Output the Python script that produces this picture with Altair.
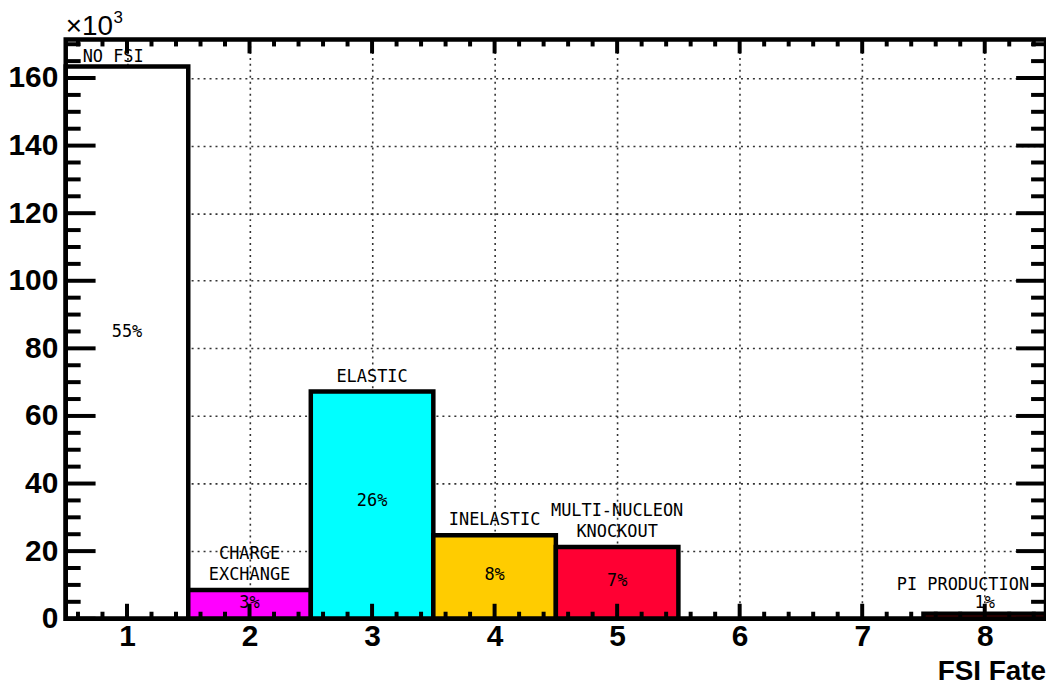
import altair as alt
import pandas as pd
import numpy as np

# ---- data (counts in units of 10^3) ----
bins = [1, 2, 3, 4, 5, 6, 7, 8]
fates = ["NO FSI", "CHARGE\nEXCHANGE", "ELASTIC", "INELASTIC",
         "MULTI-NUCLEON\nKNOCKOUT", "", "", "PI PRODUCTION"]
counts = [163.4, 8.5, 67.2, 24.7, 21.2, 0.0, 0.0, 1.5]
percents = ["55%", "3%", "26%", "8%", "7%", "", "", "1%"]
colors = ["#ffffff", "#ff00ff", "#00ffff", "#ffcc00", "#ff0033",
          "#ffffff", "#ffffff", "#990000"]
x_major = [1, 2, 3, 4, 5, 6, 7, 8]
y_major = [0, 20, 40, 60, 80, 100, 120, 140, 160]

W, H = 985, 582
XMIN, XMAX = 0.5, 8.5
YMAX = 171.4

df = pd.DataFrame({
    "bin": bins, "fate": fates, "count": counts, "pct": percents,
    "color": colors,
})
df["lo"] = df["bin"] - 0.5
df["hi"] = df["bin"] + 0.5
df["pct_y"] = np.maximum(df["count"] * 0.52, 4.5)
df["lines"] = df["fate"].str.count("\n") + 1

xs = alt.Scale(domain=[XMIN, XMAX], nice=False, zero=False)
ys = alt.Scale(domain=[0, YMAX], nice=False, zero=True)

font_ax = "Liberation Sans"
font_lab = "DejaVu Sans Mono"

XAX = alt.Axis(values=x_major, title=None, ticks=False, domain=False,
               labelFontSize=30, labelFontWeight="bold", labelFont=font_ax,
               labelColor="black", labelPadding=3, grid=True, gridColor="#333",
               gridDash=[2, 4], gridWidth=1.6, labelFlush=False)
YAX = alt.Axis(values=y_major, title=None, ticks=False, domain=False,
               labelFontSize=30, labelFontWeight="bold", labelFont=font_ax,
               labelColor="black", labelPadding=8, grid=True, gridColor="#333",
               gridDash=[2, 4], gridWidth=1.6, labelFlush=False)


def X(f):
    return alt.X(f, scale=xs, axis=XAX)


def Y(f):
    return alt.Y(f, scale=ys, axis=YAX)


bars = alt.Chart(df).mark_rect(stroke="black", strokeWidth=4.5).encode(
    x=X("lo:Q"), x2="hi:Q", y=Y("count:Q"), y2=alt.datum(0),
    fill=alt.Color("color:N", scale=None),
)

# category labels
lab_base = dict(font=font_lab, fontSize=17, lineBreak="\n", lineHeight=21,
                baseline="bottom", color="black")
lab_left = alt.Chart(df[df["bin"] == 1]).mark_text(align="left", dx=17, dy=-1, **lab_base).encode(
    x=X("lo:Q"), y=Y("count:Q"), text="fate:N")
lab_mid1 = alt.Chart(df[(df["bin"] > 1) & (df["bin"] < 8) & (df["lines"] == 1)]).mark_text(
    align="center", dy=-6, **lab_base).encode(x=X("bin:Q"), y=Y("count:Q"), text="fate:N")
lab_mid2 = alt.Chart(df[(df["bin"] > 1) & (df["bin"] < 8) & (df["lines"] == 2)]).mark_text(
    align="center", dy=-27, **lab_base).encode(x=X("bin:Q"), y=Y("count:Q"), text="fate:N")
lab_right = alt.Chart(df[df["bin"] == 8]).mark_text(align="right", dx=-17, dy=-20, **lab_base).encode(
    x=X("hi:Q"), y=Y("count:Q"), text="fate:N")

pct = alt.Chart(df).mark_text(font=font_lab, fontSize=17, baseline="middle", color="black").encode(
    x=X("bin:Q"), y=Y("pct_y:Q"), text="pct:N")

# ticks (ROOT style, inside the frame)
xmin_t = [round(v, 1) for v in np.arange(0.6, 8.41, 0.2) if abs(v - round(v)) > 1e-6]
ymin_t = [v for v in range(0, 171, 5) if v % 20 != 0]
tx_major = pd.DataFrame({"v": x_major})
tx_minor = pd.DataFrame({"v": xmin_t})
ty_major = pd.DataFrame({"v": y_major})
ty_minor = pd.DataFrame({"v": ymin_t})


def xtick(data, y0, y1):
    return alt.Chart(data).mark_rule(color="black", strokeWidth=4).encode(
        x=X("v:Q"), y=alt.value(y0), y2=alt.value(y1))


def ytick(data, x0, x1):
    return alt.Chart(data).mark_rule(color="black", strokeWidth=4).encode(
        y=Y("v:Q"), x=alt.value(x0), x2=alt.value(x1))


ticks = [
    xtick(tx_major, H, H - 15), xtick(tx_minor, H, H - 7),
    xtick(tx_major, 0, 14), xtick(tx_minor, 0, 7),
    ytick(ty_major, 0, 30), ytick(ty_minor, 0, 15),
    ytick(ty_major, W, W - 30), ytick(ty_minor, W, W - 15),
]

one = pd.DataFrame({"a": [0]})
frame = alt.Chart(one).mark_rect(fillOpacity=0, stroke="black", strokeWidth=4.5).encode(
    x=alt.value(0), x2=alt.value(W), y=alt.value(0), y2=alt.value(H))

exp1 = alt.Chart(one).mark_text(align="left", baseline="alphabetic", fontSize=28,
                                font=font_ax, color="black").encode(
    x=alt.value(0), y=alt.value(-5), text=alt.value("×10"))
exp2 = alt.Chart(one).mark_text(align="left", baseline="alphabetic", fontSize=17,
                                font=font_ax, color="black").encode(
    x=alt.value(48), y=alt.value(-17), text=alt.value("3"))
xtitle = alt.Chart(one).mark_text(align="right", baseline="alphabetic", fontSize=28,
                                  fontWeight="bold", font=font_ax, color="black").encode(
    x=alt.value(W), y=alt.value(H + 62), text=alt.value("FSI Fate"))

chart = alt.layer(bars, *ticks, lab_left, lab_mid1, lab_mid2, lab_right, pct, frame,
                  exp1, exp2, xtitle).properties(
    width=W, height=H,
    autosize=alt.AutoSizeParams(type="none"),
    padding={"left": 58, "top": 30, "right": 0, "bottom": 70},
).configure_view(stroke=None).configure(background="white")

chart.save("out.html", embed_options={"renderer": "svg", "actions": False})
